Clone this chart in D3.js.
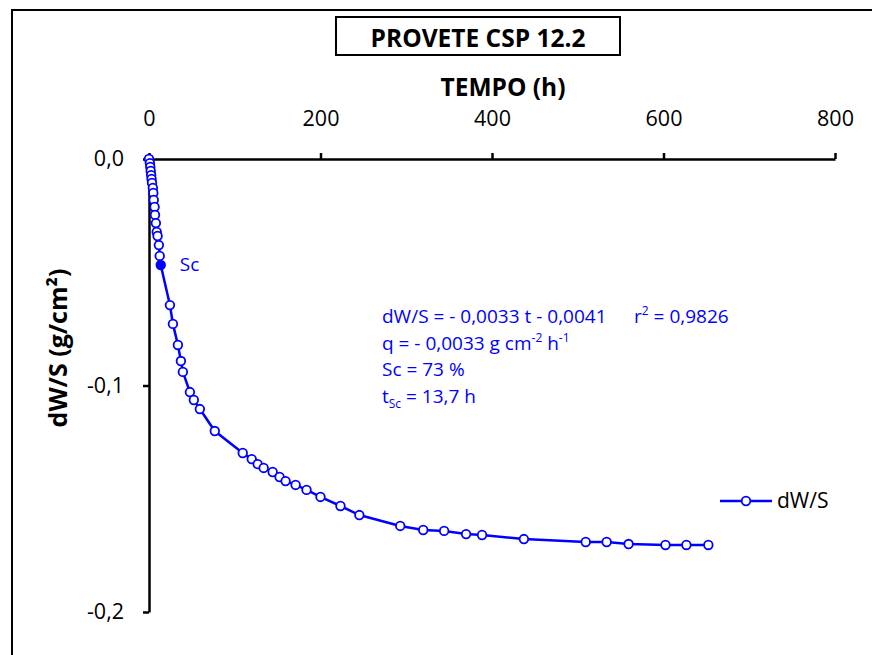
<!DOCTYPE html>
<html lang="pt">
<head>
  <meta charset="UTF-8">
  <title>PROVETE CSP 12.2</title>
  <script src="https://d3js.org/d3.v7.min.js"></script>
  <style>
    body { margin: 0; background: #fff; }
    svg { display: block; }
    text { font-family: "Open Sans", "Noto Sans", sans-serif; }
    .axis .tick text { font-size: 21.5px; fill: #000; font-family: "Open Sans", sans-serif; }
    .axis path, .axis line { stroke: #000; stroke-width: 2.5px; }
    .note { fill: #0000ff; font-size: 19px; }
  </style>
</head>
<body>
  <div id="chart"></div>
  <script>
    // tempo (h) e dW/S (g/cm2)
    const tempo = [0, 1, 1.5, 2, 2.5, 3, 3.5, 4.5, 5, 5.5, 6.5, 7, 8, 9, 10, 11.5, 12.5, 13.7,
      24.4, 27.9, 33.7, 37.2, 39.5, 47.7, 52.3, 59.3, 76.7, 109.3, 119.8, 126.7, 133.7, 144.2,
      152.3, 159.3, 171, 183.7, 200, 223.3, 245.3, 293, 319.8, 344.2, 369.8, 388.4, 437.2,
      509.3, 533.7, 559.3, 602.3, 626.7, 652.3];
    const dWS = [0, -0.0018, -0.0035, -0.0053, -0.0071, -0.0088, -0.0106, -0.0128, -0.0150,
      -0.0181, -0.0212, -0.0247, -0.0283, -0.0322, -0.0340, -0.0380, -0.0428, -0.0468,
      -0.0645, -0.0728, -0.0821, -0.0892, -0.0940, -0.1029, -0.1064, -0.1104, -0.1201,
      -0.1298, -0.1325, -0.1347, -0.1364, -0.1382, -0.1404, -0.1422, -0.1439, -0.1461,
      -0.1492, -0.1532, -0.1572, -0.1620, -0.1638, -0.1642, -0.1656, -0.1660, -0.1678,
      -0.1691, -0.1691, -0.1700, -0.1704, -0.1704, -0.1704];
    const scIndex = 17;
    const xTicks = [0, 200, 400, 600, 800];
    const yTicks = [0, -0.1, -0.2];

    const W = 872, H = 655;
    const svg = d3.select("#chart").append("svg").attr("width", W).attr("height", H);

    // moldura do gráfico
    svg.append("rect")
      .attr("x", 12).attr("y", 10).attr("width", 900).attr("height", 700)
      .attr("fill", "none").attr("stroke", "#000").attr("stroke-width", 2);

    const x = d3.scaleLinear().domain([0, 800]).range([149, 835]);
    const y = d3.scaleLinear().domain([0, -0.2]).range([159, 612]);

    const fmt = d => d3.format(".1f")(d).replace(".", ",").replace("−", "-");

    svg.append("g")
      .attr("class", "axis")
      .attr("transform", `translate(0,${y(0)})`)
      .call(d3.axisTop(x).tickValues(xTicks).tickSize(6).tickPadding(27).tickSizeOuter(0));

    svg.append("g")
      .attr("class", "axis")
      .attr("transform", `translate(${x(0)},0)`)
      .call(d3.axisLeft(y).tickValues(yTicks).tickFormat(fmt).tickSize(6).tickPadding(19).tickSizeOuter(0));

    // título
    svg.append("rect")
      .attr("x", 336).attr("y", 17).attr("width", 284).attr("height", 38)
      .attr("fill", "#fff").attr("stroke", "#000").attr("stroke-width", 2);
    svg.append("text")
      .attr("x", 478).attr("y", 47).attr("text-anchor", "middle")
      .attr("font-size", 24.5).attr("font-weight", "bold").text("PROVETE CSP 12.2");

    svg.append("text")
      .attr("x", 503).attr("y", 96).attr("text-anchor", "middle")
      .attr("font-size", 24.5).attr("font-weight", "bold").text("TEMPO (h)");

    svg.append("text")
      .attr("transform", "translate(67,348) rotate(-90)")
      .attr("text-anchor", "middle")
      .attr("font-size", 25).attr("font-weight", "bold")
      .text("dW/S (g/cm²)");

    const pts = tempo.map((t, i) => ({ t, v: dWS[i] }));

    svg.append("path")
      .datum(pts)
      .attr("fill", "none").attr("stroke", "#0000ff").attr("stroke-width", 2.5)
      .attr("d", d3.line().x(d => x(d.t)).y(d => y(d.v)));

    svg.selectAll("circle.pt")
      .data(pts)
      .enter().append("circle")
      .attr("class", "pt")
      .attr("cx", d => x(d.t)).attr("cy", d => y(d.v)).attr("r", 4.3)
      .attr("fill", (d, i) => i === scIndex ? "#0000ff" : "#fff")
      .attr("stroke", "#0000ff").attr("stroke-width", 1.8);

    svg.append("text").attr("class", "note")
      .attr("x", x(tempo[scIndex]) + 19).attr("y", y(dWS[scIndex]) + 6)
      .attr("font-size", 20)
      .text("Sc");

    // anotações
    const notes = svg.append("g").attr("class", "note");
    const t1 = notes.append("text").attr("x", 382).attr("y", 323);
    t1.append("tspan").text("dW/S = - 0,0033 t - 0,0041");
    t1.append("tspan").attr("x", 634).text("r");
    t1.append("tspan").attr("dy", -8).attr("font-size", 12).text("2");
    t1.append("tspan").attr("dy", 8).text(" = 0,9826");

    const t2 = notes.append("text").attr("x", 382).attr("y", 350);
    t2.append("tspan").text("q = - 0,0033 g cm");
    t2.append("tspan").attr("dy", -8).attr("font-size", 12).text("-2");
    t2.append("tspan").attr("dy", 8).text(" h");
    t2.append("tspan").attr("dy", -8).attr("font-size", 12).text("-1");

    notes.append("text").attr("x", 382).attr("y", 376).text("Sc = 73 %");

    const t4 = notes.append("text").attr("x", 382).attr("y", 403);
    t4.append("tspan").text("t");
    t4.append("tspan").attr("dy", 5).attr("font-size", 12).text("Sc");
    t4.append("tspan").attr("dy", -5).text(" = 13,7 h");

    // legenda
    const leg = svg.append("g");
    leg.append("line").attr("x1", 720).attr("x2", 772).attr("y1", 501).attr("y2", 501)
      .attr("stroke", "#0000ff").attr("stroke-width", 2.5);
    leg.append("circle").attr("cx", 746).attr("cy", 501).attr("r", 4.3)
      .attr("fill", "#fff").attr("stroke", "#0000ff").attr("stroke-width", 1.8);
    leg.append("text").attr("x", 777).attr("y", 508).attr("font-size", 21).text("dW/S");
  </script>
</body>
</html>
